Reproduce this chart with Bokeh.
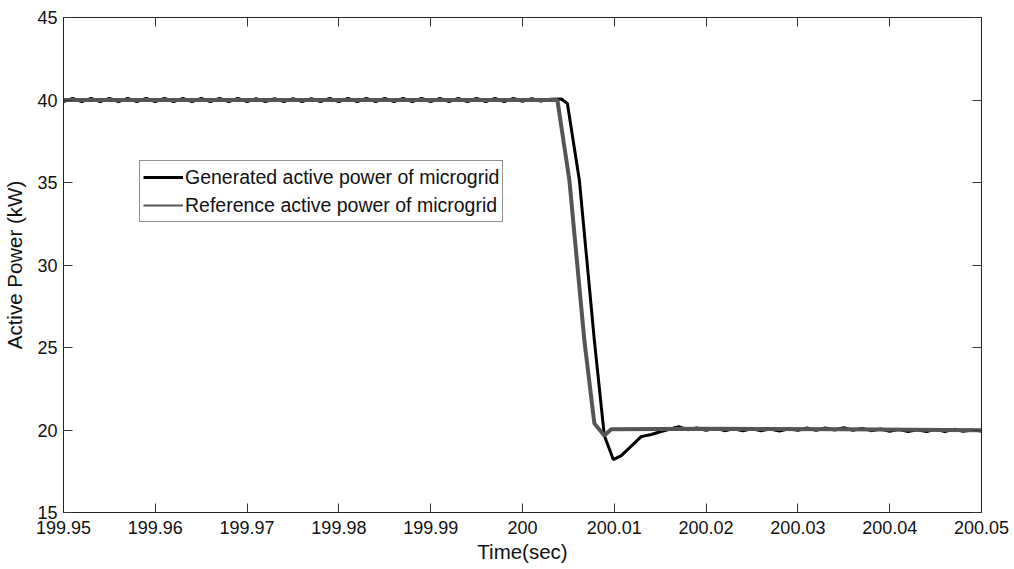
from bokeh.plotting import figure
from bokeh.models import (FixedTicker, CustomJSTickFormatter, LinearAxis, Range1d,
                          Legend, LegendItem)
from bokeh.embed import file_html
from bokeh.resources import INLINE

# Microgrid active power around the setpoint change at t = 200 s
gen_time = [
    199.950, 199.951, 199.952, 199.953, 199.954, 199.955, 199.956, 199.957, 199.958, 199.959,
    199.960, 199.961, 199.962, 199.963, 199.964, 199.965, 199.966, 199.967, 199.968, 199.969,
    199.970, 199.971, 199.972, 199.973, 199.974, 199.975, 199.976, 199.977, 199.978, 199.979,
    199.980, 199.981, 199.982, 199.983, 199.984, 199.985, 199.986, 199.987, 199.988, 199.989,
    199.990, 199.991, 199.992, 199.993, 199.994, 199.995, 199.996, 199.997, 199.998, 199.999,
    200.000, 200.001, 200.002, 200.003,
    200.00424, 200.00489, 200.00620, 200.00783, 200.00891, 200.00989, 200.01076,
    200.01293, 200.01402, 200.01511,
    200.017, 200.018, 200.019, 200.020, 200.021, 200.022, 200.023, 200.024, 200.025, 200.026,
    200.027, 200.028, 200.029, 200.030, 200.031, 200.032, 200.033, 200.034, 200.035, 200.036,
    200.037, 200.038, 200.039, 200.040, 200.041, 200.042, 200.043, 200.044, 200.045, 200.046,
    200.047, 200.048, 200.049, 200.050,
]
gen_power = [
    39.90, 40.10, 39.90, 40.10, 39.90, 40.10, 39.90, 40.10, 39.90, 40.10,
    39.90, 40.10, 39.90, 40.10, 39.90, 40.10, 39.90, 40.10, 39.90, 40.10,
    39.90, 40.08, 39.90, 40.08, 39.90, 40.08, 39.90, 40.08, 39.90, 40.10,
    39.90, 40.10, 39.90, 40.10, 39.90, 40.10, 39.90, 40.10, 39.90, 40.10,
    39.90, 40.10, 39.90, 40.10, 39.90, 40.10, 39.90, 40.10, 39.90, 40.10,
    39.92, 40.08, 39.94, 40.04,
    40.06, 39.79, 35.12, 25.42, 19.67, 18.21, 18.45,
    19.60, 19.73, 19.91,
    20.20, 20.02, 20.12, 19.98, 20.10, 19.96, 20.08, 19.96, 20.08, 19.96,
    20.06, 19.94, 20.08, 19.98, 20.12, 19.98, 20.12, 20.00, 20.14, 19.98,
    20.10, 19.96, 20.06, 19.92, 20.04, 19.90, 20.02, 19.90, 20.04, 19.90,
    20.04, 19.92, 20.00, 19.94,
]

ref_time = [199.950, 200.0038, 200.00511, 200.00674, 200.00783, 200.00891, 200.00967,
            200.020, 200.035, 200.050]
ref_power = [40.00, 40.00, 35.12, 25.42, 20.40, 19.67, 20.05,
             20.08, 20.05, 19.98]

x_ticks = [199.95, 199.96, 199.97, 199.98, 199.99, 200.00, 200.01, 200.02, 200.03, 200.04, 200.05]
y_ticks = [15, 20, 25, 30, 35, 40, 45]

FONT = "Liberation Sans"
GEN_COLOR = "black"
REF_COLOR = "#555555"

p = figure(width=1014, height=569, output_backend="svg", toolbar_location=None,
           x_range=Range1d(199.95, 200.05), y_range=Range1d(15, 45),
           min_border_left=61, min_border_right=33, min_border_top=17, min_border_bottom=57,
           x_axis_label="Time(sec)", y_axis_label="Active Power (kW)")
p.background_fill_color = "white"
p.border_fill_color = "white"
p.outline_line_color = "#222222"
p.outline_line_width = 1
p.xgrid.visible = False
p.ygrid.visible = False

fmt = CustomJSTickFormatter(code="return String(Math.round(tick * 100) / 100);")

for ax in (p.xaxis[0], p.yaxis[0]):
    ax.major_tick_in = 9
    ax.major_tick_out = 0
    ax.minor_tick_in = 0
    ax.minor_tick_out = 0
    ax.axis_line_color = "#222222"
    ax.major_tick_line_color = "#333333"
    ax.major_label_text_font = FONT
    ax.major_label_text_font_size = "18px"
    ax.major_label_text_color = "#111111"
    ax.axis_label_text_font = FONT
    ax.axis_label_text_font_size = "20.5px"
    ax.axis_label_text_font_style = "normal"
    ax.axis_label_text_color = "#111111"

p.xaxis[0].ticker = FixedTicker(ticks=x_ticks)
p.xaxis[0].formatter = fmt
p.xaxis[0].major_label_standoff = 8
p.xaxis[0].axis_label_standoff = 3
p.yaxis[0].ticker = FixedTicker(ticks=y_ticks)
p.yaxis[0].major_label_standoff = 6
p.yaxis[0].axis_label_standoff = 8

# Tick marks on the top and right edges of the box (no labels there)
blank = CustomJSTickFormatter(code="return '';")
top = LinearAxis(ticker=FixedTicker(ticks=x_ticks), formatter=blank,
                 major_tick_in=9, major_tick_out=0, minor_tick_in=0, minor_tick_out=0,
                 major_label_standoff=0,
                 axis_line_color="#222222", major_tick_line_color="#333333")
right = LinearAxis(ticker=FixedTicker(ticks=y_ticks), formatter=blank,
                   major_tick_in=9, major_tick_out=0, minor_tick_in=0, minor_tick_out=0,
                   major_label_standoff=0,
                   axis_line_color="#222222", major_tick_line_color="#333333")
p.add_layout(top, "above")
p.add_layout(right, "right")

# Generated power first, reference drawn over it
gen = p.line(gen_time, gen_power, line_color=GEN_COLOR, line_width=3)
# thinner grey trace, hidden under the main one, provides the lighter legend key
ref_key = p.line(ref_time, ref_power, line_color=REF_COLOR, line_width=2)
ref = p.line(ref_time, ref_power, line_color=REF_COLOR, line_width=4)

legend = Legend(items=[
    LegendItem(label="Generated active power of microgrid", renderers=[gen]),
    LegendItem(label="Reference active power of microgrid", renderers=[ref_key]),
], location=(76, 290))
legend.label_text_font = FONT
legend.label_text_font_size = "19.5px"
legend.label_text_color = "#111111"
legend.glyph_width = 40
legend.glyph_height = 26
legend.label_height = 26
legend.label_standoff = 2
legend.spacing = 2
legend.padding = 3
legend.margin = 0
legend.border_line_color = "#222222"
legend.border_line_width = 1
legend.background_fill_alpha = 1.0
p.add_layout(legend, "center")

open("out.html", "w").write(file_html(p, INLINE))
